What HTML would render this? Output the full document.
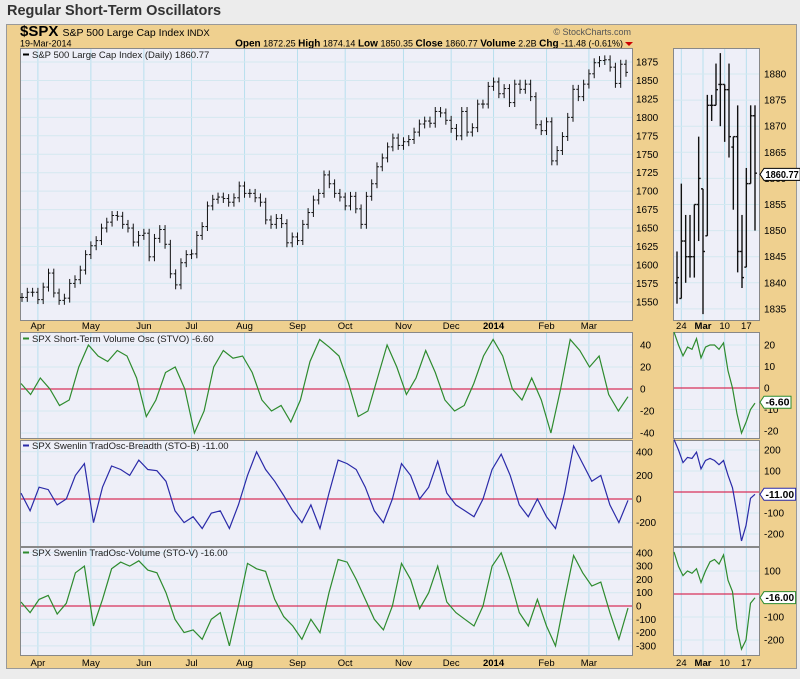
<!DOCTYPE html>
<html><head><meta charset="utf-8"><style>
body{margin:0;background:#ececec;}
svg text{font-family:"Liberation Sans",sans-serif;}
</style></head><body>
<svg id="c" width="800" height="674" xmlns="http://www.w3.org/2000/svg">
<rect x="0" y="0" width="800" height="674" fill="#ececec"/>
<text x="7" y="15" font-size="14.5" font-weight="bold" fill="#333">Regular Short-Term Oscillators</text>
<rect x="6.5" y="24.5" width="790" height="644" fill="#efd08f" stroke="#999"/>
<text x="20" y="36" font-size="15" font-weight="bold" fill="#000">$SPX <tspan font-size="10.5" font-weight="normal">S&amp;P 500 Large Cap Index</tspan><tspan font-size="9.5" font-weight="normal"> INDX</tspan></text>
<text x="20" y="46.5" font-size="9" fill="#000">19-Mar-2014</text>
<text x="631" y="35" font-size="9" fill="#555" text-anchor="end">© StockCharts.com</text>
<text x="623" y="46.5" font-size="9" fill="#000" text-anchor="end"><tspan font-weight="bold" font-size="10">Open</tspan> 1872.25 <tspan font-weight="bold" font-size="10">High</tspan> 1874.14 <tspan font-weight="bold" font-size="10">Low</tspan> 1850.35 <tspan font-weight="bold" font-size="10">Close</tspan> 1860.77 <tspan font-weight="bold" font-size="10">Volume</tspan> 2.2B <tspan font-weight="bold" font-size="10">Chg</tspan> -11.48 (-0.61%)</text>
<polygon points="625,42 633,42 629,46" fill="#c00"/>
<g id="g"></g>
</svg>
<script>
// ---- data ----
const priceCloses=[1556,1563,1563,1553,1570,1589,1562,1552,1555,1575,1580,1593,
1614,1626,1633,1650,1658,1667,1666,1655,1650,1631,
1640,1643,1611,1636,1648,1628,1588,1573,1603,1614,
1615,1640,1652,1680,1689,1692,1690,1685,1691,1707,1697,
1697,1691,1685,1661,1655,1663,1656,1630,1638,1633,
1655,1671,1688,1697,1722,1710,1697,1692,1680,
1693,1676,1655,1693,1710,1733,1745,1760,1772,1762,
1767,1770,1780,1791,1795,1792,1808,1806,1796,1785,
1775,1808,1780,1786,1818,1818,1842,1848,
1832,1839,1820,1845,1838,1845,1828,1790,1782,1794,
1741,1755,1774,1800,1838,1828,1845,1859,
1874,1877,1878,1868,1846,1872,1861];
const priceTicks=[1550,1575,1600,1625,1650,1675,1700,1725,1750,1775,1800,1825,1850,1875];
const monthLabels=["Apr","May","Jun","Jul","Aug","Sep","Oct","Nov","Dec","2014","Feb","Mar"];
const monthIndex=[3,13,23,32,42,52,61,72,81,89,99,107];
const stvo=[5,-5,10,0,-15,-10,20,40,30,25,35,30,10,-25,-10,15,20,0,-40,-20,20,35,28,30,15,-10,-20,-15,-30,-10,25,45,38,30,5,-25,-20,10,40,20,-5,10,35,15,-10,-20,-15,5,30,45,30,0,-10,10,-10,-40,0,45,35,20,30,-5,-20,-7];
const stob=[50,-100,100,80,-50,0,200,300,-200,100,280,250,200,330,250,240,150,-100,-200,-150,-250,-120,-100,-250,-50,200,400,250,150,30,-100,-200,-50,-250,50,330,300,250,100,-100,-200,0,300,200,0,100,320,50,-50,-100,-150,0,250,380,200,-50,-150,0,-150,-250,50,450,300,150,200,-50,-200,-11];
const stov=[30,-50,50,80,-60,20,250,300,-150,50,280,330,300,340,270,250,100,-100,-200,-180,-250,-100,-50,-300,0,320,280,260,50,-80,-150,-250,-100,-200,100,350,330,200,50,-100,-180,0,320,200,-20,100,300,30,-50,-100,-150,0,300,400,200,-50,-150,50,-150,-300,50,380,250,150,180,-50,-250,-16];
const zLows=[1836,1837,1840,1841,1841,1848,1834,1849,1871,1874,1870,1867,1864,1854,1842,1839,1843,1859,1850];
const zHighs=[1846,1859,1853,1853,1855,1868,1858,1876,1876,1882,1884,1878,1882,1868,1874,1853,1862,1874,1874];
const zOpens=[1840,1837,1848,1845,1845,1855,1858,1849,1874,1874,1878,1878,1877,1866,1868,1846,1843,1859,1872];
const zCloses=[1841,1848,1845,1845,1855,1860,1846,1874,1874,1877,1878,1877,1868,1868,1846,1841,1859,1872,1861];
const zDays=["24","Mar","10","17"];
const zDayIndex=[1,6,11,16];
const zStvo=[26,20,15,19,18,23,14,19,20,20,18,21,8,0,-12,-21,-16,-10,-7];
const zStob=[250,200,140,165,160,190,110,150,160,150,130,150,80,20,-100,-233,-160,-30,-11];
const zStov=[183,120,80,100,90,110,50,100,140,150,130,170,60,10,-150,-240,-200,-40,-16];

const NS="http://www.w3.org/2000/svg",G=document.getElementById('g');
function el(t,a,p){const e=document.createElementNS(NS,t);for(const k in a)e.setAttribute(k,a[k]);(p||G).appendChild(e);return e;}
function txt(x,y,s,a,p){const e=el('text',Object.assign({x:x,y:y,'font-size':10,fill:'#000'},a||{}),p);e.textContent=s;return e;}

const ML=20,MR=632,ZL=673,ZR=759;
const panels=[{t:48,b:320},{t:332,b:438},{t:440,b:546},{t:547,b:655}];
const mx=i=>22+i*(626-22)/(priceCloses.length-1);
const zx=i=>677+i*(755-677)/(zCloses.length-1);
const py=v=>62+(1875-v)*0.738, zpy=v=>74+(1880-v)*5.22;
const oy1=v=>389-v*1.1, oy2=v=>499-v*0.118, oy3=v=>606-v*0.133;
const zoy1=v=>388-v*2.15, zoy2=v=>492-v*0.21, zoy3=v=>594-v*0.23;

panels.forEach((p,k)=>{
 const a=el('rect',{x:ML+.5,y:p.t+.5,width:MR-ML,height:p.b-p.t,fill:'#eeeff8',stroke:'#888'});
 
 const b=el('rect',{x:ZL+.5,y:p.t+.5,width:ZR-ZL,height:p.b-p.t,fill:'#eeeff8',stroke:'#888'});
 
});
monthIndex.forEach(i=>{const x=mx(i);panels.forEach(p=>el('line',{x1:x,x2:x,y1:p.t+1,y2:p.b,stroke:'#b8e0ee'}));});
zDayIndex.forEach(i=>{const x=zx(i);panels.forEach(p=>el('line',{x1:x,x2:x,y1:p.t+1,y2:p.b,stroke:'#b8e0ee'}));});
function hgrid(ticks,f,x1,x2,lx,show){ticks.forEach(v=>{const y=f(v);el('line',{x1:x1,x2:x2,y1:y,y2:y,stroke:'#d4e8f0'});if(show){const t=txt(lx,y+3.5,String(v),{'font-size':10});}});}
hgrid(priceTicks,py,ML+1,MR,636,true);
hgrid([1835,1840,1845,1850,1855,1860,1865,1870,1875,1880],zpy,ZL+1,ZR,764,true);
hgrid([40,20,0,-20,-40],oy1,ML+1,MR,640,true);
hgrid([20,10,0,-10,-20],zoy1,ZL+1,ZR,764,true);
hgrid([400,200,0,-200],oy2,ML+1,MR,636,true);
hgrid([200,100,-100,-200],zoy2,ZL+1,ZR,764,true);
hgrid([400,300,200,100,0,-100,-200,-300],oy3,ML+1,MR,636,true);
hgrid([100,-100,-200],zoy3,ZL+1,ZR,764,true);
[[oy1,ML,MR],[oy2,ML,MR],[oy3,ML,MR],[zoy1,ZL,ZR],[zoy2,ZL,ZR],[zoy3,ZL,ZR]].forEach(([f,a,b])=>{const z=el('line',{x1:a+1,x2:b,y1:f(0),y2:f(0),stroke:'#d8305a','stroke-width':1.2});});
priceCloses.forEach((c,i)=>{const o=i?priceCloses[i-1]:c;const h=Math.max(o,c)+6,l=Math.min(o,c)-6,x=mx(i);
 const g=el('g',{stroke:'#111','stroke-width':1});
 
 el('line',{x1:x,x2:x,y1:py(h),y2:py(l)},g);el('line',{x1:x-2,x2:x,y1:py(o),y2:py(o)},g);el('line',{x1:x,x2:x+2,y1:py(c),y2:py(c)},g);});
zCloses.forEach((c,i)=>{const x=zx(i);const g=el('g',{stroke:'#111','stroke-width':1.4});
 
 el('line',{x1:x,x2:x,y1:zpy(zHighs[i]),y2:zpy(zLows[i])},g);el('line',{x1:x-2,x2:x,y1:zpy(zOpens[i]),y2:zpy(zOpens[i])},g);el('line',{x1:x,x2:x+2,y1:zpy(c),y2:zpy(c)},g);});
function line(arr,f,x0,x1,col,name){const pts=arr.map((v,i)=>(x0+i*(x1-x0)/(arr.length-1)).toFixed(1)+','+f(v).toFixed(1)).join(' ');const p=el('polyline',{points:pts,fill:'none',stroke:col,'stroke-width':1.2});}
line(stvo,oy1,21,628,'#2e8b2e','stvo-line');
line(stob,oy2,21,628,'#2a2aa8','sto-b-line');
line(stov,oy3,21,628,'#2e8b2e','sto-v-line');
line(zStvo,zoy1,674,755,'#2e8b2e','zoom-stvo-line');
line(zStob,zoy2,674,755,'#2a2aa8','zoom-sto-b-line');
line(zStov,zoy3,674,755,'#2e8b2e','zoom-sto-v-line');
[["S&P 500 Large Cap Index (Daily) 1860.77",58,'#000'],["SPX Short-Term Volume Osc (STVO) -6.60",342,'#2e8b2e'],["SPX Swenlin TradOsc-Breadth (STO-B) -11.00",449,'#2a2aa8'],["SPX Swenlin TradOsc-Volume (STO-V) -16.00",556,'#2e8b2e']].forEach(([s,y,c],k)=>{
 el('line',{x1:23,x2:29,y1:y-3.5,y2:y-3.5,stroke:c,'stroke-width':2});
 const t=txt(32,y,s,{'font-size':9.5,fill:'#222'});});
function dates(labels,idx,fx,y){labels.forEach((s,k)=>{const t=txt(fx(idx[k]),y,s,{'font-size':9.5,'text-anchor':'middle','font-weight':(s=='2014'||s=='Mar'&&fx===zx)?'bold':'normal'});});}
dates(monthLabels,monthIndex,mx,329);dates(monthLabels,monthIndex,mx,666);
dates(zDays,zDayIndex,zx,329);dates(zDays,zDayIndex,zx,666);
[["1860.77",zpy(1860.77),'#000'],["-6.60",zoy1(-6.6),'#2e8b2e'],["-11.00",zoy2(-11),'#2a2aa8'],["-16.00",zoy3(-16),'#2e8b2e']].forEach(([s,y,c],k)=>{
 const g=el('g',{});
 const w=s.length*4.6+4;el('polygon',{points:`${760},${y} ${764},${y-6} ${764+w},${y-6} ${764+w},${y+6} ${764},${y+6}`,fill:'#fff',stroke:c},g);
 txt(765.5,y+3.5,s,{'font-size':10,'font-weight':'bold',textLength:w-3,lengthAdjust:'spacingAndGlyphs'},g);});
</script>
</body></html>
